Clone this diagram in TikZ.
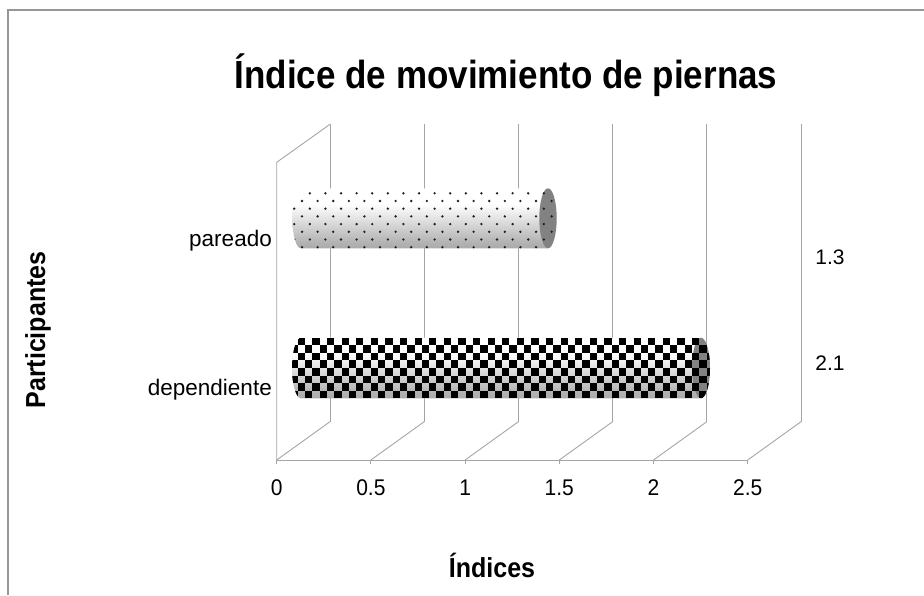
\documentclass[tikz,border=0pt]{standalone}
\usepackage{fontspec}
\setmainfont{Liberation Sans}
\definecolor{gridgray}{RGB}{165,165,165}
\definecolor{framegray}{RGB}{150,150,150}
\definecolor{capgray}{RGB}{130,130,130}
\definecolor{dotc}{RGB}{30,30,30}
\pgfdeclareverticalshading{cylshade}{100bp}{color(0bp)=(black!50); color(30bp)=(black!30); color(62bp)=(white); color(78bp)=(white); color(100bp)=(black!18)}
\begin{document}
\begin{tikzpicture}[x=1pt,y=1pt,
  grid/.style={draw=gridgray, line width=0.9pt},
  lbl/.style={font=\fontsize{21}{24}\selectfont, inner sep=0pt},
  catlbl/.style={font=\fontsize{22.5}{26}\selectfont, inner sep=0pt},
  axttl/.style={font=\bfseries\fontsize{25}{30}\selectfont, inner sep=0pt}]
\path[use as bounding box] (0,0) rectangle (924,595);
% frame
\draw[framegray, line width=1.5pt] (8,0) -- (8,585) -- (924,585);
% walls and floor
\foreach \k in {0,...,5}{
  \draw[grid] ({330+94.2*\k},173.3) -- ({330+94.2*\k},470.7);
  \draw[grid] ({276.7+94.2*\k},135) -- ({330+94.2*\k},173.3);
  \draw[grid] ({276.7+94.2*\k},135) -- ({276.7+94.2*\k},131);
}
\draw[grid] (276.7,135) -- (747.7,135);
\draw[grid] (276.7,135) -- (276.7,432.7) -- (330,470.7);
% bar pareado
\shade[shading=cylshade] (548,406.7) -- (301,406.7) arc[start angle=90, end angle=270, x radius=8.7, y radius=30] -- (548,346.7) -- cycle;
\fill[capgray] (548,376.7) ellipse[x radius=8.7, y radius=30];
\begin{scope}
\clip (548,406.7) -- (301,406.7) arc[start angle=90, end angle=270, x radius=8.7, y radius=30] -- (548,346.7) arc[start angle=-90, end angle=90, x radius=8.7, y radius=30] -- cycle;
\foreach \r in {0,...,7}{
  \foreach \c in {0,...,16}{
    \fill[dotc] ({294.2+\c*15.6+mod(\r,2)*7.8},{401.7-\r*7.7}) circle (1.3);
  }
}
\end{scope}
% bar dependiente
\shade[shading=cylshade] (701,257.3) -- (301,257.3) arc[start angle=90, end angle=270, x radius=9, y radius=30.3] -- (701,196.7) -- cycle;
\fill[capgray] (701,227) ellipse[x radius=9, y radius=30.3];
\begin{scope}
\clip (701,257.3) -- (301,257.3) arc[start angle=90, end angle=270, x radius=9, y radius=30.3] -- (701,196.7) arc[start angle=-90, end angle=90, x radius=9, y radius=30.3] -- cycle;
\foreach \r in {0,...,7}{
  \foreach \c in {0,2,...,56}{
    \fill[black] ({290.4+(\c+mod(\r,2))*7.3},{196.7+\r*7.575}) rectangle ++(7.3,7.575);
  }
}
\end{scope}
% labels
\node[catlbl, anchor=east] (pareado) at (272,354) {pareado};
\node[catlbl, anchor=east] (dependiente) at (272,205) {dependiente};
\node[lbl] (v13) at (830,338) {1.3};
\node[lbl] (v21) at (830,232) {2.1};
\foreach \k/\t in {0/0,1/0.5,2/1,3/1.5,4/2,5/2.5}{
  \node[lbl] (tick\k) at ({276.7+94.2*\k},107) {\scalebox{1}[1.08]{\t}};
}
\node[font=\bfseries\fontsize{35}{40}\selectfont, inner sep=0pt] (title) at (506,520) {\scalebox{1}[1.12]{Índice de movimiento de piernas}};
\node[axttl, rotate=90] (ylab) at (38,265) {\scalebox{1}[1.1]{Participantes}};
\node[axttl] (xlab) at (492,30) {\scalebox{1}[1.1]{Índices}};
\end{tikzpicture}
\end{document}
